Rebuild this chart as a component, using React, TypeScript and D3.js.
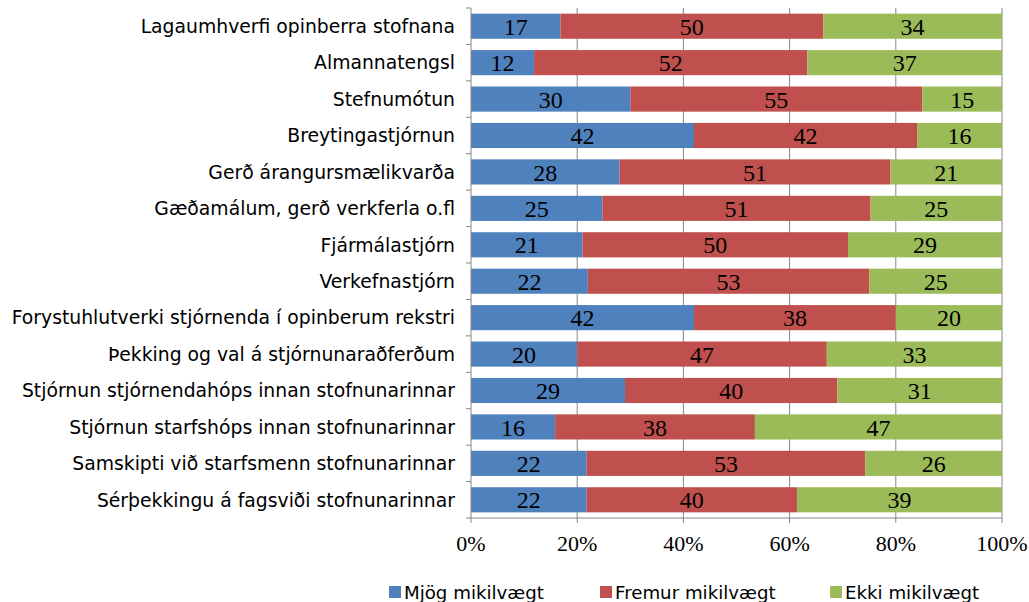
import React from "react";
import * as d3 from "d3";

const categories = [
  "Lagaumhverfi opinberra stofnana",
  "Almannatengsl",
  "Stefnumótun",
  "Breytingastjórnun",
  "Gerð árangursmælikvarða",
  "Gæðamálum, gerð verkferla o.fl",
  "Fjármálastjórn",
  "Verkefnastjórn",
  "Forystuhlutverki stjórnenda í opinberum rekstri",
  "Þekking og val á stjórnunaraðferðum",
  "Stjórnun stjórnendahóps innan stofnunarinnar",
  "Stjórnun starfshóps innan stofnunarinnar",
  "Samskipti við starfsmenn stofnunarinnar",
  "Sérþekkingu á fagsviði stofnunarinnar",
];
const seriesNames = ["Mjög mikilvægt", "Fremur mikilvægt", "Ekki mikilvægt"];
const mjog = [17, 12, 30, 42, 28, 25, 21, 22, 42, 20, 29, 16, 22, 22];
const fremur = [50, 52, 55, 42, 51, 51, 50, 53, 38, 47, 40, 38, 53, 40];
const ekki = [34, 37, 15, 16, 21, 25, 29, 25, 20, 33, 31, 47, 26, 39];
const ticks = [0, 0.2, 0.4, 0.6, 0.8, 1];
const colors = ["#4F81BD", "#C0504D", "#9BBB59"];

const W = 1029, H = 602;
const left = 471, right = 1002, top = 8, bottom = 518;
const sans = "'DejaVu Sans', Verdana, sans-serif";
const serif = "'Liberation Serif', serif";

export default function App() {
  const x = d3.scaleLinear().domain([0, 1]).range([left, right]);
  const y = d3.scaleBand<string>().domain(categories).range([top, bottom]).paddingInner(0.31).paddingOuter(0.155);
  const rows = categories.map((c, i) => ({ c, v: [mjog[i], fremur[i], ekki[i]] }));
  const stack = d3.stack<any>().keys(["0", "1", "2"]).value((d, k) => d.v[+k] / d3.sum(d.v))(rows);
  const step = (bottom - top) / categories.length;
  const legendX = [389, 600, 830];
  return (
    <svg width={W} height={H} style={{ position: "absolute", left: 0, top: 0 }}>
      <rect width={W} height={H} fill="#fff" />
      {ticks.slice(1).map((t) => (
        <line key={t} x1={x(t)} x2={x(t)} y1={top} y2={bottom} stroke="#868686" strokeWidth={1} />
      ))}
      {stack.map((s, si) =>
        s.map((d, i) => (
          <rect key={si + "-" + i} x={x(d[0])} y={y(categories[i])} width={x(d[1]) - x(d[0])} height={y.bandwidth()} fill={colors[si]} />
        ))
      )}
      {stack.map((s, si) =>
        s.map((d, i) => (
          <text key={"t" + si + "-" + i} x={(x(d[0]) + x(d[1])) / 2} y={y(categories[i])! + y.bandwidth() / 2} dy="0.36em" textAnchor="middle" fontFamily={serif} fontSize={24} fill="#000">
            {rows[i].v[si]}
          </text>
        ))
      )}
      <line x1={left} x2={left} y1={top} y2={bottom} stroke="#868686" />
      <line x1={left} x2={right} y1={bottom} y2={bottom} stroke="#868686" />
      {d3.range(categories.length + 1).map((k) => (
        <line key={"yt" + k} x1={left - 5} x2={left} y1={top + k * step} y2={top + k * step} stroke="#868686" />
      ))}
      {ticks.map((t) => (
        <g key={"xt" + t}>
          <line x1={x(t)} x2={x(t)} y1={bottom} y2={bottom + 5} stroke="#868686" />
          <text x={x(t)} y={bottom + 33} textAnchor="middle" fontFamily={serif} fontSize={22} fill="#000">
            {d3.format(".0%")(t)}
          </text>
        </g>
      ))}
      {categories.map((c) => (
        <text key={c} x={left - 16} y={y(c)! + y.bandwidth() / 2} dy="0.36em" textAnchor="end" fontFamily={sans} fontSize={18.8} fill="#000">
          {c}
        </text>
      ))}
      {seriesNames.map((n, i) => (
        <g key={n}>
          <rect x={legendX[i]} y={586} width={12} height={12} fill={colors[i]} />
          <text x={legendX[i] + 15} y={592} dy="0.36em" fontFamily={sans} fontSize={18.2} fill="#000">{n}</text>
        </g>
      ))}
    </svg>
  );
}
